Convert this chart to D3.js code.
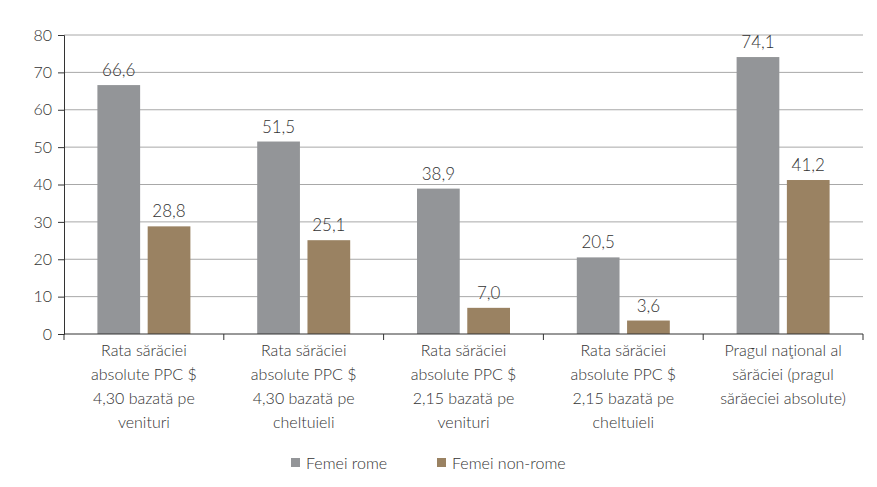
<!DOCTYPE html>
<html>
<head>
<meta charset="utf-8">
<script src="https://cdn.jsdelivr.net/npm/d3@7"></script>
<style>
  body { margin: 0; background: #fff; }
  text { font-family: Lato, "Open Sans", sans-serif; font-weight: 300; fill: #333; }
</style>
</head>
<body>
<svg id="chart" width="877" height="487"></svg>
<script>
const categories = [
    ["Rata sărăciei", "absolute PPC $", "4,30 bazată pe", "venituri"],
    ["Rata sărăciei", "absolute PPC $", "4,30 bazată pe", "cheltuieli"],
    ["Rata sărăciei", "absolute PPC $", "2,15 bazată pe", "venituri"],
    ["Rata sărăciei", "absolute PPC $", "2,15 bazată pe", "cheltuieli"],
    ["Pragul naţional al", "sărăciei (pragul", "sărăeciei absolute)"],
];
const seriesNames = ["Femei rome", "Femei non-rome"];
const romaValues = [66.6, 51.5, 38.9, 20.5, 74.1];
const nonRomaValues = [28.8, 25.1, 7.0, 3.6, 41.2];
const yTicks = [0, 10, 20, 30, 40, 50, 60, 70, 80];
const colors = ["#939598", "#9a8262"];

const margin = { left: 64, right: 14, top: 35, bottom: 153 };
const width = 877, height = 487;
const innerW = width - margin.left - margin.right;
const innerH = height - margin.top - margin.bottom;
const fontSize = "16px";

const svg = d3.select("#chart");
const g = svg.append("g").attr("transform", `translate(${margin.left},${margin.top})`);

const x0 = d3.scaleBand().domain(d3.range(categories.length)).range([0, innerW]);
const x1 = d3.scaleBand().domain([0, 1]).range([0, 93]).paddingInner(0.15);
const y = d3.scaleLinear().domain([0, 80]).range([innerH, 0]);

// gridlines
g.append("g")
    .selectAll("line")
    .data(yTicks.filter(d => d > 0))
    .join("line")
    .attr("x1", 0).attr("x2", innerW)
    .attr("y1", d => y(d)).attr("y2", d => y(d))
    .attr("stroke", "#a8a8a8").attr("stroke-width", 1);

// bars
const data = categories.map((c, i) => ({ i, vals: [romaValues[i], nonRomaValues[i]] }));
const groups = g.append("g").selectAll("g")
    .data(data)
    .join("g")
    .attr("transform", d => `translate(${x0(d.i) + x0.bandwidth() / 2 - 46.5},0)`);

groups.selectAll("rect")
    .data(d => d.vals.map((v, k) => ({ v, k })))
    .join("rect")
    .attr("x", d => x1(d.k))
    .attr("width", x1.bandwidth())
    .attr("y", d => y(d.v))
    .attr("height", d => innerH - y(d.v))
    .attr("fill", d => colors[d.k]);

groups.selectAll("text.val")
    .data(d => d.vals.map((v, k) => ({ v, k })))
    .join("text")
    .attr("class", "val")
    .attr("x", d => x1(d.k) + x1.bandwidth() / 2)
    .attr("y", d => y(d.v) - 9)
    .attr("text-anchor", "middle")
    .style("font-size", "17px")
    .attr("fill", "#444")
    .text(d => d.v.toFixed(1).replace(".", ","));

// y axis
const yAxis = g.append("g")
    .call(d3.axisLeft(y).tickValues(yTicks).tickSize(6).tickPadding(6));
yAxis.select(".domain").attr("stroke", "#333");
yAxis.selectAll(".tick line").attr("stroke", "#333");
yAxis.selectAll(".tick text")
    .style("font-size", fontSize)
    .style("font-family", "Lato, sans-serif")
    .style("font-weight", "300")
    .attr("fill", "#444");

// x axis
const xAxisG = g.append("g").attr("transform", `translate(0,${innerH})`);
xAxisG.append("line").attr("x1", 0).attr("x2", innerW).attr("stroke", "#333");
xAxisG.selectAll("line.sep")
    .data(d3.range(categories.length + 1))
    .join("line")
    .attr("class", "sep")
    .attr("x1", d => d * x0.step()).attr("x2", d => d * x0.step())
    .attr("y1", 0).attr("y2", 6)
    .attr("stroke", "#333");

const labels = xAxisG.selectAll("text.cat")
    .data(categories)
    .join("text")
    .attr("class", "cat")
    .attr("text-anchor", "middle")
    .attr("transform", (d, i) => `translate(${x0(i) + x0.bandwidth() / 2},0)`)
    .style("font-size", fontSize);
labels.selectAll("tspan")
    .data(d => d)
    .join("tspan")
    .attr("x", 0)
    .attr("y", (d, k) => 22 + k * 24)
    .text(d => d);

// legend
const legend = svg.append("g").attr("transform", "translate(291,463)");
const legendX = [0, 146];
seriesNames.forEach((name, k) => {
    const item = legend.append("g").attr("transform", `translate(${legendX[k]},0)`);
    item.append("rect").attr("x", 0).attr("y", -5).attr("width", 9).attr("height", 9).attr("fill", colors[k]);
    item.append("text").attr("x", 15).attr("y", 6).style("font-size", fontSize).attr("fill", "#444").text(name);
});
</script>
</body>
</html>
